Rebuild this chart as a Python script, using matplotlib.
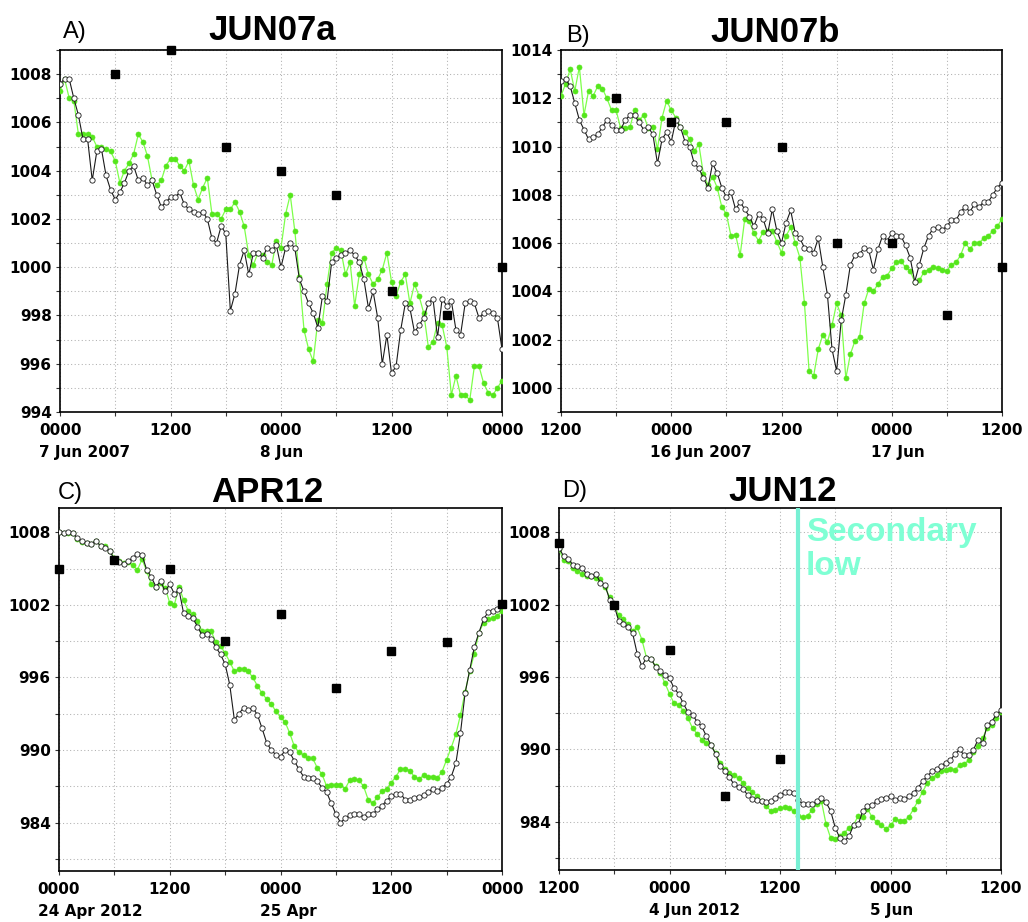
import numpy as np
import pandas as pd
import matplotlib
matplotlib.use("Agg")
import matplotlib.pyplot as plt
import matplotlib.transforms as mtrans

# ---------------- data (hPa, every 30 min over 48 h) ----------------
a_start = "2007-06-07 00:00"
a_black = [1007.6, 1007.8, 1007.8, 1007.0, 1006.3, 1005.3, 1005.3, 1003.6, 1004.8, 1004.9,
           1003.8, 1003.2, 1002.8, 1003.1, 1003.5, 1004.0, 1004.2, 1003.6, 1003.7, 1003.4,
           1003.6, 1003.0, 1002.5, 1002.7, 1002.9, 1002.9, 1003.1, 1002.6, 1002.4, 1002.3,
           1002.2, 1002.3, 1002.0, 1001.2, 1001.0, 1001.7, 1001.4, 998.2, 998.9, 1000.1,
           1000.7, 999.7, 1000.6, 1000.6, 1000.4, 1000.8, 1000.7, 1000.9, 1000.0,
           1000.8, 1001.0, 1000.8, 999.5, 999.0, 998.5, 998.1, 997.5, 998.8, 998.6,
           1000.2, 1000.4, 1000.5, 1000.6, 1000.7, 1000.5, 1000.2, 999.5, 998.3, 999.0,
           997.9, 996.0, 997.2, 995.6, 995.9, 997.4, 998.5, 998.3, 997.3, 997.6,
           997.9, 998.5, 998.7, 997.1, 998.7, 998.4, 998.6, 997.4, 997.2, 998.5,
           998.6, 998.5, 997.9, 998.1, 998.2, 998.1, 997.9, 996.6]
a_green = [1007.3, 1007.8, 1007.0, 1006.9, 1005.5, 1005.5, 1005.5, 1005.4, 1005.0, 1005.0,
           1004.9, 1004.8, 1004.4, 1003.5, 1004.0, 1004.3, 1004.7, 1005.5, 1005.2, 1004.6,
           1003.6, 1003.4, 1003.6, 1004.2, 1004.5, 1004.5, 1004.2, 1004.0, 1004.4, 1003.4,
           1002.8, 1003.3, 1003.7, 1002.2, 1002.2, 1002.0, 1002.4, 1002.4, 1002.7, 1002.3,
           1001.7, 1000.5, 1000.1, 1000.6, 1000.5, 1000.2, 1000.1, 1001.1, 1000.8,
           1002.2, 1003.0, 1001.5, 999.6, 997.4, 996.6, 996.1, 997.8, 997.7, 999.3,
           1000.6, 1000.8, 1000.7, 999.7, 1000.2, 998.4, 999.7, 1000.4, 999.7, 999.3,
           999.5, 999.9, 1000.6, 999.4, 998.8, 999.4, 999.7, 998.5, 999.3, 998.8,
           998.1, 996.7, 996.9, 997.7, 997.6, 996.7, 994.7, 995.5, 994.7, 994.7,
           994.5, 995.9, 995.9, 995.2, 994.8, 994.7, 995.0, 995.3]
a_obs = [np.nan, 1008, 1009, 1005, 1004, 1003, 999, 998, 1000]

b_start = "2007-06-15 12:00"
b_black = [1012.7, 1012.8, 1012.5, 1011.8, 1011.1, 1010.7, 1010.3, 1010.4, 1010.5, 1010.8,
           1011.1, 1010.9, 1010.7, 1010.7, 1011.1, 1011.3, 1011.3, 1011.0, 1010.7, 1010.8,
           1010.5, 1009.3, 1010.3, 1010.6, 1010.2, 1011.1, 1010.8, 1010.2, 1010.0, 1009.3,
           1009.1, 1008.7, 1008.3, 1009.3, 1008.9, 1008.3, 1007.9, 1008.1, 1007.4, 1007.7,
           1007.4, 1007.1, 1006.7, 1007.2, 1007.0, 1006.4, 1007.4, 1006.5, 1006.0,
           1006.85, 1007.35, 1006.4, 1006.2, 1005.8, 1005.75, 1005.6, 1006.2, 1005.0, 1003.85,
           1001.6, 1000.7, 1002.8, 1003.85, 1005.1, 1005.5, 1005.55, 1005.8, 1005.7, 1004.9,
           1005.75, 1006.3, 1006.1, 1006.4, 1006.3, 1006.3, 1005.9, 1005.4, 1004.4, 1005.1,
           1005.8, 1006.3, 1006.6, 1006.65, 1006.55, 1006.7, 1006.95, 1006.95, 1007.3, 1007.5,
           1007.3, 1007.6, 1007.5, 1007.7, 1007.7, 1008.0, 1008.3, 1008.5]
b_green = [1012.1, 1012.6, 1013.2, 1012.3, 1013.3, 1011.3, 1012.3, 1012.1, 1012.5, 1012.4,
           1012.0, 1011.5, 1011.5, 1010.75, 1010.75, 1010.8, 1011.5, 1011.1, 1011.3, 1010.75,
           1010.8, 1009.9, 1011.2, 1011.9, 1011.5, 1011.2, 1010.8, 1010.6, 1010.3, 1009.8,
           1010.1, 1008.85, 1008.4, 1008.75, 1008.3, 1007.5, 1007.2, 1006.3, 1006.35, 1005.5,
           1007.0, 1006.9, 1006.4, 1006.1, 1006.45, 1006.5, 1006.5, 1006.05, 1005.6,
           1006.3, 1006.65, 1006.0, 1005.4, 1003.5, 1000.7, 1000.5, 1001.6, 1002.2, 1001.9,
           1002.6, 1003.5, 1003.0, 1000.4, 1001.4, 1001.95, 1002.1, 1003.5, 1004.1, 1004.0,
           1004.3, 1004.6, 1004.65, 1004.95, 1005.2, 1005.25, 1005.0, 1004.85, 1004.4, 1004.45,
           1004.8, 1004.9, 1005.0, 1004.95, 1004.9, 1004.85, 1005.1, 1005.2, 1005.5, 1006.0,
           1005.75, 1006.0, 1006.0, 1006.2, 1006.3, 1006.5, 1006.7, 1007.0]
b_obs = [np.nan, 1012, 1011, 1011, 1010, 1006, 1006, 1003, 1005]

c_start = "2012-04-24 00:00"
c_black = [1008.0, 1007.95, 1008.0, 1007.95, 1007.5, 1007.25, 1007.1, 1007.05, 1007.3, 1006.85,
           1006.7, 1006.45, 1005.75, 1005.5, 1005.4, 1005.6, 1005.9, 1006.2, 1006.1, 1004.9,
           1004.3, 1003.5, 1003.95, 1003.1, 1003.7, 1002.9, 1003.25, 1001.3, 1001.1, 1000.9,
           1000.2, 999.5, 999.6, 999.15, 998.5, 997.9, 997.1, 995.4, 992.5, 993.0,
           993.5, 993.3, 993.5, 992.9, 991.8, 990.6, 990.0, 989.6, 989.4,
           990.0, 989.8, 989.1, 988.4, 987.8, 987.7, 987.7, 987.4, 986.9, 986.5,
           985.6, 984.7, 984.0, 984.35, 984.6, 984.7, 984.7, 984.5, 984.7, 984.7,
           985.1, 985.4, 985.8, 986.2, 986.4, 986.4, 985.9, 985.9, 986.0, 986.1,
           986.3, 986.5, 986.8, 986.65, 986.9, 987.2, 987.8, 988.9, 991.4, 994.7,
           996.6, 998.5, 999.7, 1000.8, 1001.4, 1001.5, 1001.65, 1002.0]
c_green = [1008.0, 1007.9, 1007.95, 1007.9, 1007.4, 1007.2, 1007.1, 1007.05, 1007.3, 1006.9,
           1006.85, 1006.45, 1005.9, 1005.6, 1005.45, 1005.55, 1005.25, 1004.9, 1005.75, 1004.8,
           1003.7, 1003.5, 1003.8, 1003.4, 1002.15, 1002.0, 1003.5, 1002.4, 1001.5, 1001.2,
           1000.7, 999.8, 999.8, 999.8, 998.9, 998.6, 998.0, 997.3, 996.5, 996.7,
           996.7, 996.5, 996.0, 995.3, 994.7, 994.2, 993.8, 993.2, 992.7,
           992.3, 991.4, 990.3, 989.8, 989.6, 989.3, 989.3, 988.5, 988.0, 987.0,
           987.1, 987.1, 987.1, 986.8, 987.5, 987.6, 987.5, 987.0, 985.9, 985.6,
           986.1, 986.6, 986.8, 987.3, 987.8, 988.4, 988.45, 988.3, 987.8, 987.6,
           987.9, 987.8, 987.8, 987.7, 988.2, 989.2, 990.2, 991.3, 992.9, 994.8,
           996.5, 997.95, 999.7, 1000.5, 1000.8, 1000.9, 1001.1, 1001.5]
c_obs = [1005.0, 1005.7, 1005.0, 999.0, 1001.2, 995.1, 998.2, 998.9, 1002.1]

d_start = "2012-06-03 12:00"
d_black = [1006.7, 1006.0, 1005.8, 1005.3, 1005.2, 1005.0, 1004.55, 1004.4, 1004.55, 1003.8,
           1003.6, 1002.4, 1001.9, 1000.6, 1000.4, 1000.1, 999.6, 997.9, 996.9, 997.6,
           997.5, 996.8, 996.5, 996.2, 995.9, 995.05, 994.6, 993.8, 993.1, 992.85,
           992.3, 991.9, 991.1, 990.4, 989.6, 988.6, 988.2, 987.7, 987.1, 986.9,
           986.7, 986.2, 985.9, 985.8, 985.75, 985.6, 985.75, 986.0, 986.2,
           986.45, 986.5, 986.4, 985.8, 985.45, 985.45, 985.45, 985.7, 986.0, 985.6,
           984.9, 983.5, 982.65, 982.4, 982.8, 983.75, 983.8, 984.9, 985.3, 985.4,
           985.7, 985.9, 986.0, 986.1, 985.8, 986.0, 985.9, 986.1, 986.4, 986.8,
           987.4, 987.75, 988.2, 988.35, 988.65, 988.9, 989.1, 989.6, 990.0, 989.5,
           989.55, 989.95, 990.8, 990.5, 992.0, 992.3, 992.9, 993.25]
d_green = [1006.6, 1005.65, 1005.6, 1005.05, 1004.75, 1004.5, 1004.4, 1004.4, 1004.2, 1004.1,
           1003.45, 1002.6, 1001.9, 1001.1, 1000.8, 1000.4, 999.8, 1000.1, 999.1, 997.6,
           997.45, 996.9, 996.35, 995.5, 994.6, 993.8, 993.7, 993.2, 992.6, 991.75,
           991.3, 990.8, 990.5, 990.4, 989.7, 988.85, 988.4, 988.0, 987.9, 987.6,
           987.2, 986.8, 986.5, 986.1, 985.75, 985.3, 984.9, 985.0, 985.1,
           985.2, 985.1, 984.9, 984.5, 984.4, 984.5, 985.0, 985.45, 985.7, 983.8,
           982.65, 982.6, 982.8, 983.1, 983.5, 983.75, 984.5, 984.4, 985.05, 984.4,
           983.95, 983.75, 983.4, 983.7, 984.2, 984.1, 984.1, 984.4, 985.05, 985.75,
           986.5, 987.2, 987.6, 987.9, 988.2, 988.25, 988.4, 988.3, 988.7, 988.8,
           989.1, 989.75, 990.3, 990.9, 991.8, 992.0, 992.6, 993.1]
d_obs = [1007.1, 1002.0, 998.2, 986.1, 989.2, np.nan, np.nan, np.nan, np.nan]
d_secondary_low = "2012-06-04 14:00"

titles = ["JUN07a", "JUN07b", "APR12", "JUN12"]
letters = ["A)", "B)", "C)", "D)"]
date_labels = [[(0, "7 Jun 2007"), (24, "8 Jun")],
               [(12, "16 Jun 2007"), (36, "17 Jun")],
               [(0, "24 Apr 2012"), (24, "25 Apr")],
               [(12, "4 Jun 2012"), (36, "5 Jun")]]

# ---------------- figure ----------------
W, H = 1028, 922
fig = plt.figure(figsize=(W / 100, H / 100), dpi=100)

def rect(l, r, t, b):
    return [l / W, 1 - b / H, (r - l) / W, (b - t) / H]

panels = [
    dict(start=a_start, black=a_black, green=a_green, obs=a_obs, ylim=(994, 1009),
         major=2, minor=1, rect=rect(60, 502, 50, 412), tx=0.48, ty=1.028, lx=0.007, ly=1.033),
    dict(start=b_start, black=b_black, green=b_green, obs=b_obs, ylim=(999, 1014),
         major=2, minor=1, rect=rect(561, 1002, 50, 412), tx=0.486, ty=1.023, lx=0.011, ly=1.023),
    dict(start=c_start, black=c_black, green=c_green, obs=c_obs, ylim=(980, 1010),
         major=6, minor=3, rect=rect(59, 502, 508, 871), tx=0.47, ty=1.017, lx=-0.002, ly=1.025),
    dict(start=d_start, black=d_black, green=d_green, obs=d_obs, ylim=(980, 1010),
         major=6, minor=3, rect=rect(559, 1001, 508, 870), tx=0.506, ty=1.02, lx=0.007, ly=1.03),
]

tick_font = dict(family="DejaVu Sans", fontweight="bold", fontsize=11)

for i, p in enumerate(panels):
    ax = fig.add_axes(p["rect"])
    start = pd.Timestamp(p["start"])
    times = pd.date_range(start, periods=len(p["black"]), freq="30min")
    obs_times = pd.date_range(start, periods=len(p["obs"]), freq="6h")

    ax.plot(times, p["green"], color="#7dff4a", lw=0.9, marker="o", ms=3.6,
            mfc="#55e61c", mec="#55e61c", mew=0.5, zorder=3)
    ax.plot(times, p["black"], color="#1a1a1a", lw=0.8, marker="o", ms=3.8,
            mfc="white", mec="#1a1a1a", mew=0.6, zorder=4)
    ax.plot(obs_times, p["obs"], linestyle="none", marker="s", ms=5.5,
            mfc="black", mec="black", zorder=6, clip_on=False)

    ax.set_ylim(*p["ylim"])
    end = start + pd.Timedelta(hours=48)
    ax.set_xlim(start, end)

    lo, hi = p["ylim"]
    yt = [v for v in range(int(lo), int(hi) + 1) if v % p["major"] == 0]
    ym = [v for v in range(int(lo), int(hi) + 1) if v % p["minor"] == 0 and v % p["major"] != 0]
    ax.set_yticks(yt, [str(v) for v in yt], **tick_font)
    ax.set_yticks(ym, minor=True)

    xt = [start + pd.Timedelta(hours=h) for h in (0, 12, 24, 36, 48)]
    xm = [start + pd.Timedelta(hours=h) for h in (6, 18, 30, 42)]
    ax.set_xticks(xt, [t.strftime("%H%M") for t in xt], **tick_font)
    ax.set_xticks(xm, minor=True)

    ax.grid(True, which="both", linestyle=(0, (1, 2.4)), color="#b0b0b0", lw=0.75)
    ax.set_axisbelow(True)
    ax.tick_params(which="both", direction="out", length=3, width=0.8, color="#333333")
    ax.tick_params(axis="y", pad=3)
    ax.tick_params(axis="x", pad=5)
    for s in ax.spines.values():
        s.set_linewidth(1.2)
        s.set_color("black")

    # date labels under the 0000 ticks, left-aligned with the tick label
    base = mtrans.blended_transform_factory(ax.transData, ax.transAxes)
    tr = mtrans.offset_copy(base, fig=fig, x=-15.0, y=-29, units="points")
    for h, txt in date_labels[i]:
        ax.text(start + pd.Timedelta(hours=h), 0, txt, transform=tr, ha="left", va="center",
                **tick_font)

    ax.text(p["tx"], p["ty"], titles[i], transform=ax.transAxes, ha="center", va="baseline",
            fontsize=25, fontweight="bold", family="Liberation Sans")
    ax.text(p["lx"], p["ly"], letters[i], transform=ax.transAxes, ha="left", va="baseline",
            fontsize=17, family="Liberation Sans")

    if i == 3:
        ax.axvline(pd.Timestamp(d_secondary_low), color="#78f0d4", lw=3, zorder=5)
        ax.text(0.559, 0.976, "Secondary\nlow", transform=ax.transAxes, ha="left", va="top",
                fontsize=24, fontweight="bold", color="#7fffd4", family="Liberation Sans",
                linespacing=1.15, zorder=7)

fig.savefig("out.png", dpi=100)
